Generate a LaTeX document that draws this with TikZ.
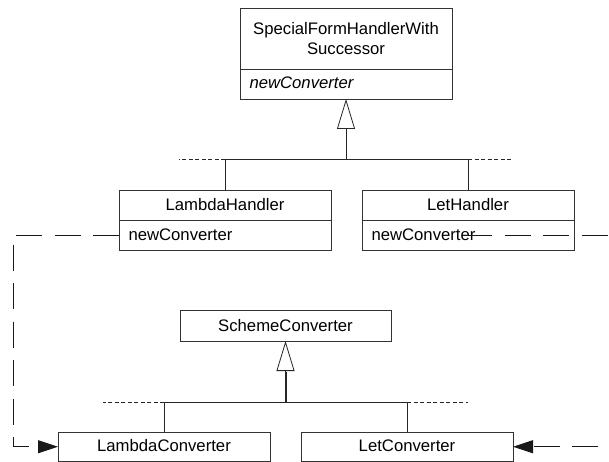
\documentclass[tikz,border=0pt]{standalone}
\usepackage{fontspec}
\setmainfont{Liberation Sans}
\usetikzlibrary{arrows.meta}
\begin{document}
\begin{tikzpicture}[x=1pt, y=-1pt,
  font=\fontsize{16.7}{19.5}\selectfont,
  every node/.style={inner sep=0pt, outer sep=0pt},
  cls/.style={draw=black!80, line width=0.8pt, fill=white, minimum width=212pt,
              text height=12pt, text depth=0.5pt},
  clsop/.style={cls, text width=193pt, inner xsep=9.5pt, align=left, minimum height=30pt},
  bar/.style={draw=black!85, line width=0.8pt},
  tail/.style={draw=black!85, line width=0.6pt, dash pattern=on 4pt off 2.5pt},
  gen/.style={bar, -{Triangle[fill=white, length=30pt, width=18pt]}},
  dep/.style={draw=black!90, line width=0.9pt, dash pattern=on 26pt off 12.5pt,
              -{Triangle[length=20pt, width=13pt]}},
]
\useasboundingbox (0,0) rectangle (609,462);
\fill[white] (0,0) rectangle (609,462);
\clip (0,0) rectangle (609,462);

% handler hierarchy
\node[cls, minimum height=61pt, text height=32pt, text depth=0.5pt, align=center,
      anchor=north west] (sf) at (240,8) {SpecialFormHandlerWith\\Successor};
\node[clsop, text depth=3pt, anchor=north] (sfop) at (sf.south) {\itshape newConverter};

\node[cls, minimum height=30pt, anchor=north west] (lh) at (119,190) {LambdaHandler};
\node[clsop, text depth=2pt, anchor=north] (lhop) at (lh.south) {newConverter};

\node[cls, minimum height=30pt, anchor=north west] (leth) at (362,190) {LetHandler};
\node[clsop, text depth=2pt, anchor=north] (lethop) at (leth.south) {newConverter};

% converter hierarchy
\node[cls, minimum width=211pt, minimum height=31pt, anchor=north west] (sc) at (180,310) {SchemeConverter};
\node[cls, minimum height=29.5pt, text depth=2pt, anchor=north west] (lc) at (58,432) {LambdaConverter};
\node[cls, minimum height=29.5pt, text depth=2pt, anchor=north west] (ltc) at (301,432) {LetConverter};

% generalization tree of the handlers
\coordinate (j1) at (346,159);
\draw[gen] (j1) -- (sfop.south);
\draw[bar] (lh.north |- j1) -- (leth.north |- j1);
\draw[bar] (lh.north) -- (lh.north |- j1);
\draw[bar] (leth.north) -- (leth.north |- j1);
\draw[tail] (lh.north |- j1) -- ++(-46,0);
\draw[tail] (leth.north |- j1) -- ++(45,0);

% generalization tree of the converters
\coordinate (barb) at (0,402);
\coordinate (j2) at (sc.south |- barb);
\path (j2) ++(0,-30) coordinate (j2t);
\draw[gen] (j2) -- (sc.south);
\draw[bar, line width=2pt] (j2) -- (j2t);
\draw[bar] (lc.north |- j2) -- (ltc.north |- j2);
\draw[bar] (lc.north) -- (lc.north |- j2);
\draw[bar] (ltc.north) -- (ltc.north |- j2);
\draw[tail] (lc.north |- j2) -- ++(-61,0);
\draw[tail] (ltc.north |- j2) -- ++(61,0);

% dependencies from the handlers to the converters they create
\coordinate (lcorner) at (13,0);
\draw[dep] (lhop.west) -| (lcorner |- lc.west) -- (lc.west);
\coordinate (rstart) at (466,235);
\coordinate (rcorner) at (638,0);
\draw[dep] (rstart) -| (rcorner |- ltc.east) -- (ltc.east);
\end{tikzpicture}
\end{document}
